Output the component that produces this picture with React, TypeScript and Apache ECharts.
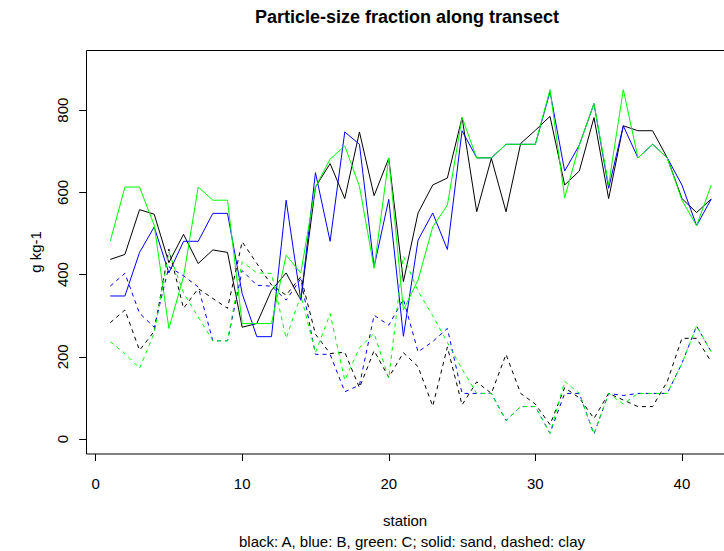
import React, { useEffect, useRef } from "react";
import * as echarts from "echarts";

const stations = [1, 2, 3, 4, 5, 6, 7, 8, 9, 10, 11, 12, 13, 14, 15, 16, 17, 18, 19, 20, 21, 22, 23, 24, 25, 26, 27, 28, 29, 30, 31, 32, 33, 34, 35, 36, 37, 38, 39, 40, 41, 42];

const sandA = [437, 449, 558, 547, 429, 498, 427, 460, 454, 272, 281, 362, 404, 338, 613, 670, 585, 747, 592, 683, 383, 550, 618, 635, 782, 553, 683, 553, 719, 751, 785, 618, 652, 782, 585, 762, 750, 750, 684, 585, 551, 584];
const sandB = [348, 348, 454, 516, 404, 481, 481, 549, 549, 354, 249, 249, 581, 338, 648, 481, 747, 717, 419, 583, 250, 484, 550, 461, 750, 684, 684, 717, 717, 717, 845, 652, 715, 816, 610, 762, 684, 717, 684, 618, 519, 584];
const sandC = [481, 613, 613, 520, 269, 395, 613, 581, 581, 281, 281, 281, 447, 404, 613, 681, 713, 615, 415, 683, 314, 387, 516, 569, 782, 684, 684, 717, 717, 717, 850, 587, 715, 816, 618, 850, 684, 717, 684, 581, 519, 618];

const clayA = [283, 314, 216, 262, 462, 318, 366, 342, 318, 480, 427, 375, 350, 395, 255, 208, 211, 125, 215, 150, 210, 176, 80, 224, 83, 139, 111, 206, 111, 85, 35, 125, 100, 50, 111, 95, 79, 79, 140, 245, 245, 188];
const clayB = [372, 403, 306, 272, 419, 397, 370, 239, 239, 410, 374, 372, 338, 390, 206, 206, 115, 131, 301, 277, 340, 212, 237, 269, 111, 111, 111, 45, 79, 79, 14, 111, 111, 12, 111, 106, 111, 111, 111, 184, 275, 212];
const clayC = [237, 208, 172, 258, 455, 355, 297, 239, 239, 431, 404, 403, 245, 350, 210, 305, 143, 222, 257, 148, 445, 360, 300, 235, 170, 111, 111, 45, 79, 79, 14, 140, 111, 12, 111, 85, 111, 111, 111, 184, 275, 212];

const xTicks = [0, 10, 20, 30, 40];
const yTicks = [0, 200, 400, 600, 800];

const FONT = "'Liberation Sans', Arial, Helvetica, sans-serif";

function pairs(vals: number[]) {
  return stations.map((s, i) => [s, vals[i]]);
}

function line(name: string, vals: number[], color: string, dashed: boolean) {
  return {
    name,
    type: "line",
    data: pairs(vals),
    showSymbol: false,
    symbol: "none",
    lineStyle: { color, width: 1, type: dashed ? [4, 4] : "solid" },
    itemStyle: { color },
    silent: true,
    z: 2,
  };
}

export default function App() {
  const ref = useRef<HTMLDivElement>(null);
  useEffect(() => {
    document.body.style.margin = "0";
    if (!ref.current) return;
    const chart = echarts.init(ref.current, null, { renderer: "svg" });
    chart.setOption({
      animation: false,
      backgroundColor: "#ffffff",
      textStyle: { fontFamily: FONT },
      grid: {
        left: 86.2,
        top: 50,
        right: 0,
        bottom: 97,
        show: false,
        containLabel: false,
      },
      xAxis: {
        type: "value",
        min: -0.64,
        max: 42.87,
        axisLine: { show: false, onZero: false },
        splitLine: { show: false },
        axisTick: { show: true, length: 7, customValues: xTicks, lineStyle: { color: "#000", width: 1 } },
        axisLabel: { customValues: xTicks, color: "#000", fontSize: 15, fontFamily: FONT, margin: 22 },
        name: "station",
        nameLocation: "middle",
        nameGap: 59,
        nameTextStyle: { color: "#000", fontSize: 15, fontFamily: FONT },
      },
      yAxis: {
        type: "value",
        min: -36.4,
        max: 946.4,
        axisLine: { show: false, onZero: false },
        splitLine: { show: false },
        axisTick: { show: true, length: 7, customValues: yTicks, lineStyle: { color: "#000", width: 1 } },
        axisLabel: { customValues: yTicks, rotate: 90, color: "#000", fontSize: 15, fontFamily: FONT, margin: 16.5 },
        name: "g kg-1",
        nameLocation: "middle",
        nameGap: 43.5,
        nameRotate: 90,
        nameTextStyle: { color: "#000", fontSize: 15, fontFamily: FONT },
      },
      graphic: [
        {
          type: "rect",
          silent: true,
          z: 10,
          shape: { x: 86.5, y: 50.5, width: 660, height: 403.5 },
          style: { fill: "none", stroke: "#000", lineWidth: 1 },
        },
        {
          type: "text",
          x: 407,
          y: 17,
          style: {
            text: "Particle-size fraction along transect",
            fill: "#000",
            font: "bold 18px " + FONT,
            textAlign: "center",
            textVerticalAlign: "middle",
          },
        },
        {
          type: "text",
          x: 412,
          y: 541,
          style: {
            text: "black: A, blue: B, green: C; solid: sand, dashed: clay",
            fill: "#000",
            font: "15px " + FONT,
            textAlign: "center",
            textVerticalAlign: "middle",
          },
        },
      ],
      series: [
        line("sand A", sandA, "#000000", false),
        line("sand B", sandB, "#0000ff", false),
        line("sand C", sandC, "#00ff00", false),
        line("clay A", clayA, "#000000", true),
        line("clay B", clayB, "#0000ff", true),
        line("clay C", clayC, "#00ff00", true),
      ],
    });
    return () => chart.dispose();
  }, []);
  return <div ref={ref} style={{ width: 724, height: 551 }} />;
}
